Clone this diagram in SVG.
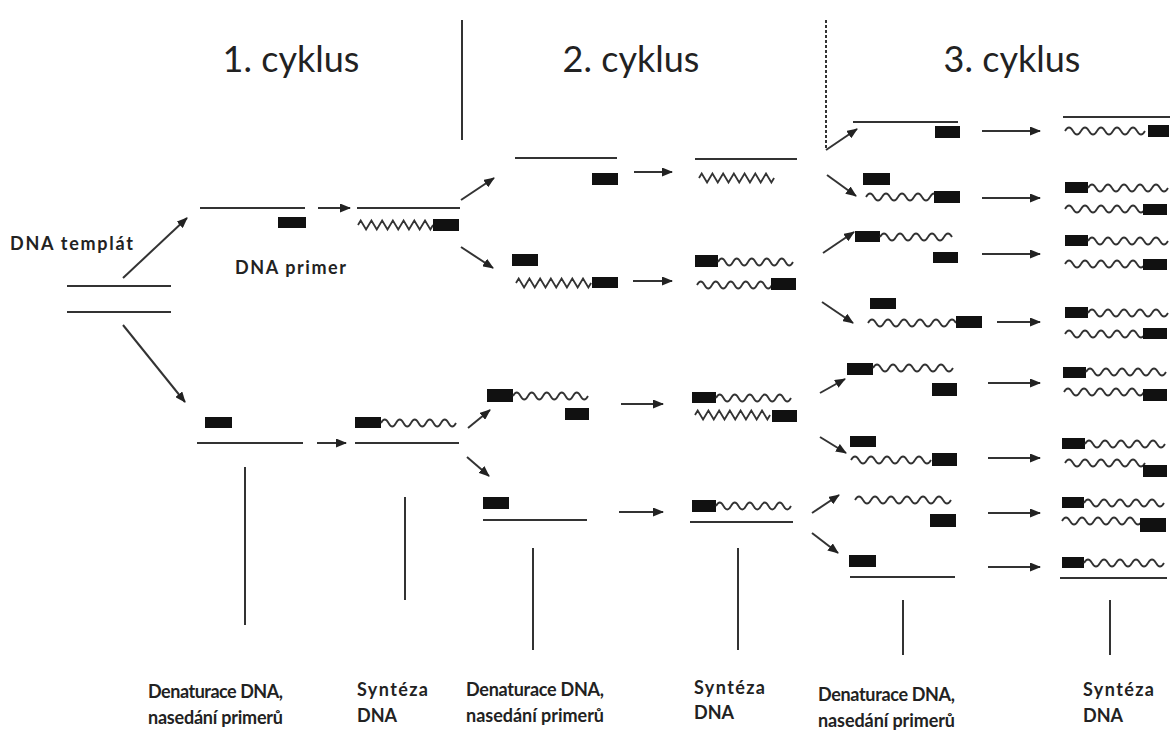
<svg xmlns="http://www.w3.org/2000/svg" width="1173" height="742" viewBox="0 0 1173 742">
<defs>
<marker id="ah" markerUnits="userSpaceOnUse" markerWidth="11" markerHeight="9" refX="10" refY="4.5" orient="auto"><path d="M0,0 L11,4.5 L0,9 z" fill="#222"/></marker>
<style>
.s{stroke:#333;stroke-width:2;fill:none}
.w{stroke:#333;stroke-width:1.8;fill:none}
.p{fill:#111}
.a{stroke:#333;stroke-width:2;fill:none;marker-end:url(#ah)}
.lead{stroke:#333;stroke-width:2}
.title{font-family:Lato,"Open Sans",sans-serif;font-size:36px;fill:#222;text-anchor:middle}
.lab{font-family:Lato,"Open Sans",sans-serif;font-size:18px;font-weight:bold;fill:#222}
</style>
</defs>
<rect width="1173" height="742" fill="#fff"/>

<g id="titles">
<text class="title" x="291" y="72">1. cyklus</text>
<text class="title" x="631" y="72">2. cyklus</text>
<text class="title" x="1012" y="72">3. cyklus</text>
<line x1="462" y1="20" x2="462" y2="140" class="lead"/>
<line x1="826" y1="20" x2="826" y2="150" stroke="#333" stroke-width="2" stroke-dasharray="3,2"/>
</g>

<g id="template">
<text class="lab" x="10" y="250" textLength="123" lengthAdjust="spacing">DNA templát</text>
<line x1="67" y1="286" x2="171" y2="286" class="s"/>
<line x1="67" y1="312" x2="171" y2="312" class="s"/>
</g>

<g id="c1-top-den">
<line x1="200" y1="208" x2="305" y2="208" class="s"/>
<rect x="278" y="217" width="28" height="11" class="p"/>
<text class="lab" x="235" y="274" textLength="111" lengthAdjust="spacing">DNA primer</text>
</g>
<g id="c1-top-syn">
<line x1="357" y1="208" x2="460" y2="208" class="s"/>
<path class="w" d="M358,225 l2.7,-4.5 5.36,9 5.36,-9 5.36,9 5.36,-9 5.36,9 5.36,-9 5.36,9 5.36,-9 5.36,9 5.36,-9 5.36,9 5.36,-9 5.36,9 2.7,-4.5"/>
<rect x="433" y="219" width="26" height="12" class="p"/>
</g>
<g id="c1-bot-den">
<rect x="205" y="417" width="27" height="11" class="p"/>
<line x1="197" y1="443" x2="303" y2="443" class="s"/>
</g>
<g id="c1-bot-syn">
<rect x="355" y="417" width="26" height="11" class="p"/>
<path class="w" d="M381,423 q3.75,-7 7.5,0 t7.5,0 t7.5,0 t7.5,0 t7.5,0 t7.5,0 t7.5,0 t7.5,0 t7.5,0 t7.5,0"/>
<line x1="355" y1="443" x2="459" y2="443" class="s"/>
</g>

<g id="c2-r1-den">
<line x1="515" y1="158" x2="617" y2="158" class="s"/>
<rect x="592" y="173" width="26" height="12" class="p"/>
</g>
<g id="c2-r1-syn">
<line x1="695" y1="159" x2="797" y2="159" class="s"/>
<path class="w" d="M699,178 l2.7,-4.5 5.36,9 5.36,-9 5.36,9 5.36,-9 5.36,9 5.36,-9 5.36,9 5.36,-9 5.36,9 5.36,-9 5.36,9 5.36,-9 5.36,9 2.7,-4.5"/>
</g>
<g id="c2-r2-den">
<rect x="512" y="254" width="26" height="12" class="p"/>
<path class="w" d="M516,283 l2.7,-4.5 5.36,9 5.36,-9 5.36,9 5.36,-9 5.36,9 5.36,-9 5.36,9 5.36,-9 5.36,9 5.36,-9 5.36,9 5.36,-9 5.36,9 2.7,-4.5"/>
<rect x="592" y="277" width="26" height="11" class="p"/>
</g>
<g id="c2-r2-syn">
<rect x="695" y="255" width="23" height="12" class="p"/>
<path class="w" d="M718,262 q3.75,-7 7.5,0 t7.5,0 t7.5,0 t7.5,0 t7.5,0 t7.5,0 t7.5,0 t7.5,0 t7.5,0 t7.5,0"/>
<path class="w" d="M697,285 q3.75,-7 7.5,0 t7.5,0 t7.5,0 t7.5,0 t7.5,0 t7.5,0 t7.5,0 t7.5,0 t7.5,0 t7.5,0"/>
<rect x="771" y="278" width="25" height="12" class="p"/>
</g>
<g id="c2-r3-den">
<rect x="487" y="389" width="26" height="13" class="p"/>
<path class="w" d="M513,396 q3.75,-7 7.5,0 t7.5,0 t7.5,0 t7.5,0 t7.5,0 t7.5,0 t7.5,0 t7.5,0 t7.5,0 t7.5,0"/>
<rect x="565" y="408" width="24" height="12" class="p"/>
</g>
<g id="c2-r3-syn">
<rect x="692" y="392" width="24" height="11" class="p"/>
<path class="w" d="M716,398 q3.75,-7 7.5,0 t7.5,0 t7.5,0 t7.5,0 t7.5,0 t7.5,0 t7.5,0 t7.5,0 t7.5,0 t7.5,0"/>
<path class="w" d="M695,415 l2.7,-4.5 5.36,9 5.36,-9 5.36,9 5.36,-9 5.36,9 5.36,-9 5.36,9 5.36,-9 5.36,9 5.36,-9 5.36,9 5.36,-9 5.36,9 2.7,-4.5"/>
<rect x="772" y="410" width="25" height="12" class="p"/>
</g>
<g id="c2-r4-den">
<rect x="483" y="497" width="26" height="12" class="p"/>
<line x1="483" y1="520" x2="587" y2="520" class="s"/>
</g>
<g id="c2-r4-syn">
<rect x="692" y="500" width="24" height="12" class="p"/>
<path class="w" d="M716,506 q3.75,-7 7.5,0 t7.5,0 t7.5,0 t7.5,0 t7.5,0 t7.5,0 t7.5,0 t7.5,0 t7.5,0 t7.5,0"/>
<line x1="690" y1="522" x2="793" y2="522" class="s"/>
</g>

<g id="c3-r1-den">
<line x1="853" y1="122" x2="958" y2="122" class="s"/>
<rect x="935" y="126" width="25" height="12" class="p"/>
</g>
<g id="c3-r1-syn">
<line x1="1063" y1="117" x2="1170" y2="117" class="s"/>
<path class="w" d="M1065,131 q4,-7 8,0 t8,0 t8,0 t8,0 t8,0 t8,0 t8,0 t8,0 t8,0 t8,0"/>
<rect x="1148" y="125" width="21" height="12" class="p"/>
</g>
<g id="c3-r2-den">
<rect x="863" y="173" width="27" height="12" class="p"/>
<path class="w" d="M866,197 q4,-7 8,0 t8,0 t8,0 t8,0 t8,0 t8,0 t8,0 t8,0 t8,0"/>
<rect x="934" y="191" width="26" height="12" class="p"/>
</g>
<g id="c3-r2-syn">
<rect x="1065" y="182" width="23" height="11" class="p"/>
<path class="w" d="M1088,188 q4,-7 8,0 t8,0 t8,0 t8,0 t8,0 t8,0 t8,0 t8,0 t8,0 t8,0"/>
<path class="w" d="M1065,209 q4,-7 8,0 t8,0 t8,0 t8,0 t8,0 t8,0 t8,0 t8,0 t8,0 t8,0"/>
<rect x="1143" y="204" width="24" height="11" class="p"/>
</g>
<g id="c3-r3-den">
<rect x="855" y="231" width="25" height="11" class="p"/>
<path class="w" d="M880,237 q4,-7 8,0 t8,0 t8,0 t8,0 t8,0 t8,0 t8,0 t8,0 t8,0"/>
<rect x="933" y="252" width="25" height="11" class="p"/>
</g>
<g id="c3-r3-syn">
<rect x="1065" y="235" width="23" height="11" class="p"/>
<path class="w" d="M1088,241 q4,-7 8,0 t8,0 t8,0 t8,0 t8,0 t8,0 t8,0 t8,0 t8,0 t8,0"/>
<path class="w" d="M1065,264 q4,-7 8,0 t8,0 t8,0 t8,0 t8,0 t8,0 t8,0 t8,0 t8,0 t8,0"/>
<rect x="1143" y="259" width="24" height="11" class="p"/>
</g>
<g id="c3-r4-den">
<rect x="870" y="298" width="26" height="11" class="p"/>
<path class="w" d="M868,323 q4,-7 8,0 t8,0 t8,0 t8,0 t8,0 t8,0 t8,0 t8,0 t8,0 t8,0 t8,0"/>
<rect x="956" y="316" width="26" height="12" class="p"/>
</g>
<g id="c3-r4-syn">
<rect x="1065" y="307" width="23" height="11" class="p"/>
<path class="w" d="M1088,313 q4,-7 8,0 t8,0 t8,0 t8,0 t8,0 t8,0 t8,0 t8,0 t8,0 t8,0"/>
<path class="w" d="M1065,334 q4,-7 8,0 t8,0 t8,0 t8,0 t8,0 t8,0 t8,0 t8,0 t8,0 t8,0"/>
<rect x="1143" y="328" width="24" height="11" class="p"/>
</g>
<g id="c3-r5-den">
<rect x="847" y="363" width="26" height="12" class="p"/>
<path class="w" d="M873,368 q4,-7 8,0 t8,0 t8,0 t8,0 t8,0 t8,0 t8,0 t8,0 t8,0 t8,0"/>
<rect x="932" y="383" width="25" height="13" class="p"/>
</g>
<g id="c3-r5-syn">
<rect x="1063" y="367" width="23" height="11" class="p"/>
<path class="w" d="M1086,372 q4,-7 8,0 t8,0 t8,0 t8,0 t8,0 t8,0 t8,0 t8,0 t8,0 t8,0"/>
<path class="w" d="M1064,392 q4,-7 8,0 t8,0 t8,0 t8,0 t8,0 t8,0 t8,0 t8,0 t8,0 t8,0"/>
<rect x="1143" y="389" width="24" height="12" class="p"/>
</g>
<g id="c3-r6-den">
<rect x="850" y="436" width="26" height="11" class="p"/>
<path class="w" d="M851,460 q4,-7 8,0 t8,0 t8,0 t8,0 t8,0 t8,0 t8,0 t8,0 t8,0 t8,0"/>
<rect x="932" y="453" width="25" height="13" class="p"/>
</g>
<g id="c3-r6-syn">
<rect x="1062" y="438" width="23" height="11" class="p"/>
<path class="w" d="M1085,444 q4,-7 8,0 t8,0 t8,0 t8,0 t8,0 t8,0 t8,0 t8,0 t8,0 t8,0"/>
<path class="w" d="M1065,463 q4,-7 8,0 t8,0 t8,0 t8,0 t8,0 t8,0 t8,0 t8,0 t8,0 t8,0"/>
<rect x="1143" y="465" width="24" height="12" class="p"/>
</g>
<g id="c3-r7-den">
<path class="w" d="M855,500 q4,-7 8,0 t8,0 t8,0 t8,0 t8,0 t8,0 t8,0 t8,0 t8,0 t8,0 t8,0 t8,0"/>
<rect x="930" y="514" width="26" height="13" class="p"/>
</g>
<g id="c3-r7-syn">
<rect x="1062" y="497" width="22" height="11" class="p"/>
<path class="w" d="M1084,503 q4,-7 8,0 t8,0 t8,0 t8,0 t8,0 t8,0 t8,0 t8,0 t8,0 t8,0"/>
<path class="w" d="M1062,521 q4,-7 8,0 t8,0 t8,0 t8,0 t8,0 t8,0 t8,0 t8,0 t8,0 t8,0"/>
<rect x="1140" y="518" width="26" height="14" class="p"/>
</g>
<g id="c3-r8-den">
<rect x="849" y="555" width="27" height="12" class="p"/>
<line x1="850" y1="577" x2="955" y2="577" class="s"/>
</g>
<g id="c3-r8-syn">
<rect x="1062" y="557" width="22" height="11" class="p"/>
<path class="w" d="M1084,563 q4,-7 8,0 t8,0 t8,0 t8,0 t8,0 t8,0 t8,0 t8,0 t8,0 t8,0"/>
<line x1="1060" y1="578" x2="1167" y2="578" class="s"/>
</g>

<g id="connectors">
<line class="a" x1="123" y1="278" x2="187" y2="218"/>
<line class="a" x1="123" y1="325" x2="185" y2="402"/>
<line class="a" x1="318" y1="208" x2="350" y2="208"/>
<line class="a" x1="317" y1="443" x2="346" y2="443"/>
<line class="a" x1="461" y1="200" x2="494" y2="178"/>
<line class="a" x1="461" y1="247" x2="493" y2="268"/>
<line class="a" x1="634" y1="172" x2="672" y2="172"/>
<line class="a" x1="633" y1="281" x2="672" y2="281"/>
<line class="a" x1="468" y1="428" x2="490" y2="410"/>
<line class="a" x1="467" y1="457" x2="489" y2="476"/>
<line class="a" x1="621" y1="404" x2="663" y2="404"/>
<line class="a" x1="619" y1="512" x2="663" y2="512"/>
<line class="a" x1="826" y1="150" x2="857" y2="129"/>
<line class="a" x1="827" y1="175" x2="856" y2="196"/>
<line class="a" x1="823" y1="253" x2="854" y2="232"/>
<line class="a" x1="822" y1="302" x2="853" y2="323"/>
<line class="a" x1="820" y1="393" x2="845" y2="379"/>
<line class="a" x1="820" y1="437" x2="846" y2="453"/>
<line class="a" x1="812" y1="513" x2="839" y2="495"/>
<line class="a" x1="812" y1="533" x2="838" y2="553"/>
<line class="a" x1="982" y1="131" x2="1040" y2="131"/>
<line class="a" x1="982" y1="198" x2="1040" y2="198"/>
<line class="a" x1="982" y1="254" x2="1040" y2="254"/>
<line class="a" x1="997" y1="322" x2="1040" y2="322"/>
<line class="a" x1="988" y1="383" x2="1040" y2="383"/>
<line class="a" x1="988" y1="458" x2="1040" y2="458"/>
<line class="a" x1="988" y1="513" x2="1040" y2="513"/>
<line class="a" x1="988" y1="567" x2="1040" y2="567"/>
</g>

<g id="leaders">
<line class="lead" x1="245" y1="467" x2="245" y2="625"/>
<line class="lead" x1="405" y1="497" x2="405" y2="600"/>
<line class="lead" x1="533" y1="548" x2="533" y2="650"/>
<line class="lead" x1="738" y1="548" x2="738" y2="650"/>
<line class="lead" x1="903" y1="600" x2="903" y2="655"/>
<line class="lead" x1="1110" y1="600" x2="1110" y2="655"/>
</g>

<g id="step-labels">
<text class="lab" x="148" y="698" textLength="135" lengthAdjust="spacing">Denaturace DNA,</text>
<text class="lab" x="148" y="724" textLength="135" lengthAdjust="spacing">nasedání primerů</text>
<text class="lab" x="357" y="696" textLength="71" lengthAdjust="spacing">Syntéza</text>
<text class="lab" x="357" y="722">DNA</text>
<text class="lab" x="466" y="696" textLength="138" lengthAdjust="spacing">Denaturace DNA,</text>
<text class="lab" x="466" y="722" textLength="138" lengthAdjust="spacing">nasedání primerů</text>
<text class="lab" x="694" y="694" textLength="71" lengthAdjust="spacing">Syntéza</text>
<text class="lab" x="694" y="719">DNA</text>
<text class="lab" x="818" y="701" textLength="137" lengthAdjust="spacing">Denaturace DNA,</text>
<text class="lab" x="818" y="727" textLength="137" lengthAdjust="spacing">nasedání primerů</text>
<text class="lab" x="1083" y="696" textLength="71" lengthAdjust="spacing">Syntéza</text>
<text class="lab" x="1083" y="722">DNA</text>
</g>
</svg>
